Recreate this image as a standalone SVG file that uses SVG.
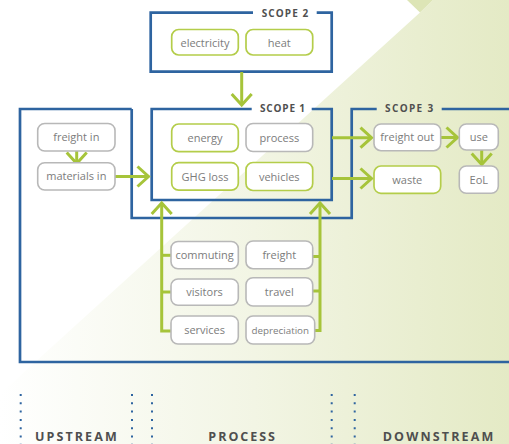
<svg xmlns="http://www.w3.org/2000/svg" width="509" height="444" viewBox="0 0 509 444">
  <style>
    .frame{fill:none;stroke:#2e64a0;stroke-width:2.7}
    .conn{fill:none;stroke:#a6c43a;stroke-width:3}
    .ng{fill:#fff;stroke:#b4cd4a;stroke-width:1.7}
    .nk{fill:#fff;stroke:#b8b8b8;stroke-width:1.6}
    .lbl{font-family:"Open Sans","Noto Sans",sans-serif;font-size:11px;fill:#7c7c7c;text-anchor:middle}
    .ttl{font-family:"Open Sans","Noto Sans",sans-serif;font-size:10px;font-weight:700;fill:#505050}
    .zone{font-family:"Open Sans","Noto Sans",sans-serif;font-size:12.5px;font-weight:700;fill:#4f4f4f}
    .dots{fill:none;stroke:#2e64a0;stroke-width:2;stroke-dasharray:2 6.3}
  </style>
  <defs>
    <linearGradient id="bg" gradientUnits="userSpaceOnUse" x1="0" y1="0" x2="509" y2="0">
      <stop offset="0" stop-color="#ffffff"/>
      <stop offset="0.5" stop-color="#f2f5e4"/>
      <stop offset="1" stop-color="#e4eac5"/>
    </linearGradient>
    <marker id="ah" markerUnits="userSpaceOnUse" markerWidth="30" markerHeight="30" viewBox="-15 -15 30 30" refX="0" refY="0" orient="auto" overflow="visible">
      <path d="M-11,-10 L0,0 L-11,10" fill="none" stroke="#a6c43a" stroke-width="3"/>
    </marker>
  </defs>

  <!-- background -->
  <rect x="0" y="0" width="509" height="444" fill="#ffffff"/>
  <polygon points="433,0 509,0 509,444 -55,444 420,12.5" fill="url(#bg)"/>
  <polygon points="407,0 420,12.5 433,0" fill="#dde5b6"/>

  <!-- frames -->
  <g id="frames">
    <path class="frame" d="M253,12.7 H150.7 V71.7 H331.7 V12.7 H316.7"/>
    <path class="frame" d="M251.7,109 H151.7 V200 H331.7 V109 H311.7"/>
    <path class="frame" d="M131.7,109 H20 V362 H512"/>
    <path class="frame" d="M376.7,109 H351.7 V218 H131.7 V109"/>
    <path class="frame" d="M441.7,109 H512"/>
    <text class="ttl" x="261.7" y="17.3" textLength="46.6" lengthAdjust="spacing">SCOPE 2</text>
    <text class="ttl" x="260" y="112.4" textLength="45" lengthAdjust="spacing">SCOPE 1</text>
    <text class="ttl" x="385" y="112.4" textLength="48.3" lengthAdjust="spacing">SCOPE 3</text>
  </g>

  <!-- connectors -->
  <g id="connectors">
    <path class="conn" d="M241.7,72 V105" marker-end="url(#ah)"/>
    <path class="conn" d="M76.7,151 V163.5" marker-end="url(#ah)"/>
    <path class="conn" d="M115,176.5 H148.5" marker-end="url(#ah)"/>
    <path class="conn" d="M332,137.7 H371.5" marker-end="url(#ah)"/>
    <path class="conn" d="M332,178.5 H371.5" marker-end="url(#ah)"/>
    <path class="conn" d="M441,137.5 H457.5" marker-end="url(#ah)"/>
    <path class="conn" d="M481.7,150 V164.5" marker-end="url(#ah)"/>
    <path class="conn" d="M171,255.3 H161.7"/>
    <path class="conn" d="M171,292 H161.7"/>
    <path class="conn" d="M171,331 H161.7 V203" marker-end="url(#ah)"/>
    <path class="conn" d="M312.7,256.5 H320"/>
    <path class="conn" d="M312.7,291 H320"/>
    <path class="conn" d="M314.7,330.5 H320 V203" marker-end="url(#ah)"/>
  </g>

  <!-- scope 2 nodes -->
  <g id="electricity"><rect class="ng" x="171.7" y="29.5" width="66.6" height="25.5" rx="7"/><text class="lbl" x="205" y="46.5">electricity</text></g>
  <g id="heat"><rect class="ng" x="246" y="29.5" width="66.7" height="25.5" rx="7"/><text class="lbl" x="279.3" y="46.5">heat</text></g>

  <!-- scope 1 nodes -->
  <g id="energy"><rect class="ng" x="171.7" y="124" width="66.6" height="27.6" rx="7"/><text class="lbl" x="205" y="141.8">energy</text></g>
  <g id="process"><rect class="nk" x="246" y="123.5" width="66.7" height="28" rx="7"/><text class="lbl" x="279.3" y="141.5">process</text></g>
  <g id="ghg-loss"><rect class="ng" x="171.7" y="162.7" width="66.6" height="27.5" rx="7"/><text class="lbl" x="205" y="180.5">GHG loss</text></g>
  <g id="vehicles"><rect class="ng" x="246" y="162.5" width="66.7" height="28" rx="7"/><text class="lbl" x="279.3" y="180.5">vehicles</text></g>

  <!-- upstream nodes -->
  <g id="freight-in"><rect class="nk" x="37.7" y="123.5" width="77.3" height="27.5" rx="7"/><text class="lbl" x="76.3" y="141">freight in</text></g>
  <g id="materials-in"><rect class="nk" x="37.7" y="162.7" width="77.3" height="27.3" rx="7"/><text class="lbl" x="76.3" y="180.3">materials in</text></g>

  <!-- scope 3 nodes -->
  <g id="freight-out"><rect class="nk" x="374" y="124" width="66.7" height="26.7" rx="7"/><text class="lbl" x="407.3" y="141.3">freight out</text></g>
  <g id="waste"><rect class="ng" x="374" y="166" width="66.7" height="27.3" rx="7"/><text class="lbl" x="407.3" y="183.7">waste</text></g>
  <g id="use"><rect class="nk" x="459.3" y="124" width="39" height="26" rx="7"/><text class="lbl" x="478.8" y="141">use</text></g>
  <g id="eol"><rect class="nk" x="459.3" y="166" width="39" height="27.3" rx="7"/><text class="lbl" x="478.8" y="183.7">EoL</text></g>

  <!-- lower nodes -->
  <g id="commuting"><rect class="nk" x="171" y="241.5" width="67.3" height="27.3" rx="7"/><text class="lbl" x="204.6" y="259">commuting</text></g>
  <g id="freight"><rect class="nk" x="246" y="241" width="66.7" height="27.7" rx="7"/><text class="lbl" x="279.3" y="258.7">freight</text></g>
  <g id="visitors"><rect class="nk" x="171" y="279" width="67.3" height="26.3" rx="7"/><text class="lbl" x="204.6" y="296">visitors</text></g>
  <g id="travel"><rect class="nk" x="246" y="277.7" width="66.7" height="28.3" rx="7"/><text class="lbl" x="279.3" y="295.7">travel</text></g>
  <g id="services"><rect class="nk" x="171" y="316" width="67.3" height="28" rx="7"/><text class="lbl" x="204.6" y="334">services</text></g>
  <g id="depreciation"><rect class="nk" x="246" y="316" width="68.7" height="28" rx="7"/><text class="lbl" x="280.3" y="333.7" style="font-size:9.8px">depreciation</text></g>

  <!-- bottom zones -->
  <g id="zones">
    <path class="dots" d="M20.7,394 V444"/>
    <path class="dots" d="M132,394 V444"/>
    <path class="dots" d="M152,394 V444"/>
    <path class="dots" d="M331.7,394 V444"/>
    <path class="dots" d="M354.7,394 V444"/>
    <text class="zone" x="35" y="440.5" textLength="81.7" lengthAdjust="spacing">UPSTREAM</text>
    <text class="zone" x="208.3" y="440.5" textLength="66.7" lengthAdjust="spacing">PROCESS</text>
    <text class="zone" x="382.7" y="440.5" textLength="110.6" lengthAdjust="spacing">DOWNSTREAM</text>
  </g>
</svg>
